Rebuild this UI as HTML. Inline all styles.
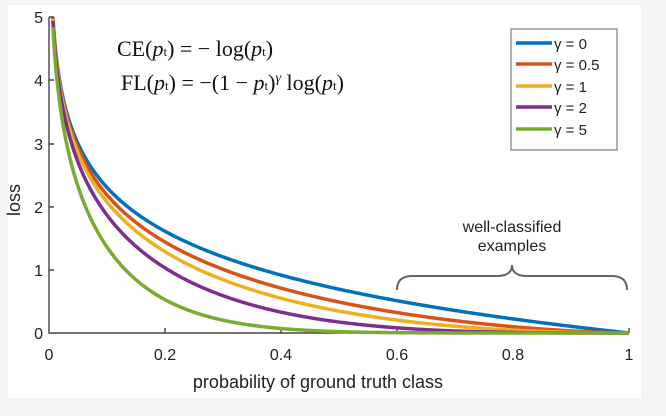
<!DOCTYPE html><html><head><style>
html,body{margin:0;padding:0;background:#f4f4f4;width:666px;height:416px;overflow:hidden}
svg{position:absolute;left:0;top:0}
text{font-family:"Liberation Sans",sans-serif;fill:#222}
.eq{font-family:"Liberation Serif",serif;font-size:22px;fill:#111}
</style></head><body>
<svg width="666" height="416" id="s">
<rect x="8" y="5" width="633" height="393" fill="#fff"/>
<g stroke="#444" stroke-width="1.4" fill="none">
<path d="M49,17 V333 H629"/>
<path d="M49,17h5M49,80h5M49,144h5M49,207h5M49,270h5"/>
<path d="M165,333v-5M281,333v-5M397,333v-5M513,333v-5M629,333v-5"/>
</g>
<g font-size="16" text-anchor="end">
<text x="43" y="23">5</text><text x="43" y="86">4</text><text x="43" y="150">3</text><text x="43" y="213">2</text><text x="43" y="276">1</text><text x="43" y="339">0</text>
</g>
<g font-size="16" text-anchor="middle">
<text x="49" y="360">0</text><text x="165" y="360">0.2</text><text x="281" y="360">0.4</text><text x="397" y="360">0.6</text><text x="513" y="360">0.8</text><text x="629" y="360">1</text>
</g>
<text x="318" y="388" font-size="18" text-anchor="middle">probability of ground truth class</text>
<text x="20" y="200" font-size="18" text-anchor="middle" transform="rotate(-90 20 200)">loss</text>
<g id="curves" fill="none" stroke-width="3.5"></g>
<text class="eq" x="117" y="56">CE(<tspan font-style="italic">p</tspan><tspan font-size="13">t</tspan>) = − log(<tspan font-style="italic">p</tspan><tspan font-size="13">t</tspan>)</text>
<text class="eq" x="121" y="90">FL(<tspan font-style="italic">p</tspan><tspan font-size="13">t</tspan>) = −(1 − <tspan font-style="italic">p</tspan><tspan font-size="13">t</tspan>)<tspan font-style="italic" font-size="14" dy="-8">γ</tspan><tspan dy="8"> log(</tspan><tspan font-style="italic">p</tspan><tspan font-size="13">t</tspan>)</text>
<rect x="511" y="29" width="106" height="121" fill="#fff" stroke="#666" stroke-width="1"/>
<g stroke-width="3.5">
<line x1="516" y1="43" x2="552" y2="43" stroke="#0072bd"/>
<line x1="516" y1="64" x2="552" y2="64" stroke="#d95319"/>
<line x1="516" y1="86" x2="552" y2="86" stroke="#edb120"/>
<line x1="516" y1="107" x2="552" y2="107" stroke="#7e2f8e"/>
<line x1="516" y1="129" x2="552" y2="129" stroke="#77ac30"/>
</g>
<g font-size="15">
<text x="554" y="49">γ = 0</text><text x="554" y="70">γ = 0.5</text><text x="554" y="92">γ = 1</text><text x="554" y="113">γ = 2</text><text x="554" y="135">γ = 5</text>
</g>
<path d="M397,290 Q397,276 412,276 L497,276 Q512,276 512,265 Q512,276 527,276 L612,276 Q627,276 627,290" fill="none" stroke="#666" stroke-width="2"/>
<text x="512" y="232" font-size="16" text-anchor="middle">well-classified</text>
<text x="512" y="251" font-size="16" text-anchor="middle">examples</text>
</svg>
<script>
var g=document.getElementById('curves');
var cs=[[0,'#0072bd'],[0.5,'#d95319'],[1,'#edb120'],[2,'#7e2f8e'],[5,'#77ac30']];
cs.forEach(function(c){var d='';for(var i=0;i<=600;i++){var p=0.0067+i*(1-0.0067)/600;var v=-Math.pow(1-p,c[0])*Math.log(p);if(v>5)v=5;var x=49+p*580,y=333-v*63.2;d+=(i?'L':'M')+x.toFixed(2)+','+y.toFixed(2);}
var e=document.createElementNS('http://www.w3.org/2000/svg','path');e.setAttribute('d',d);e.setAttribute('stroke',c[1]);g.appendChild(e);});
</script>
</body></html>
